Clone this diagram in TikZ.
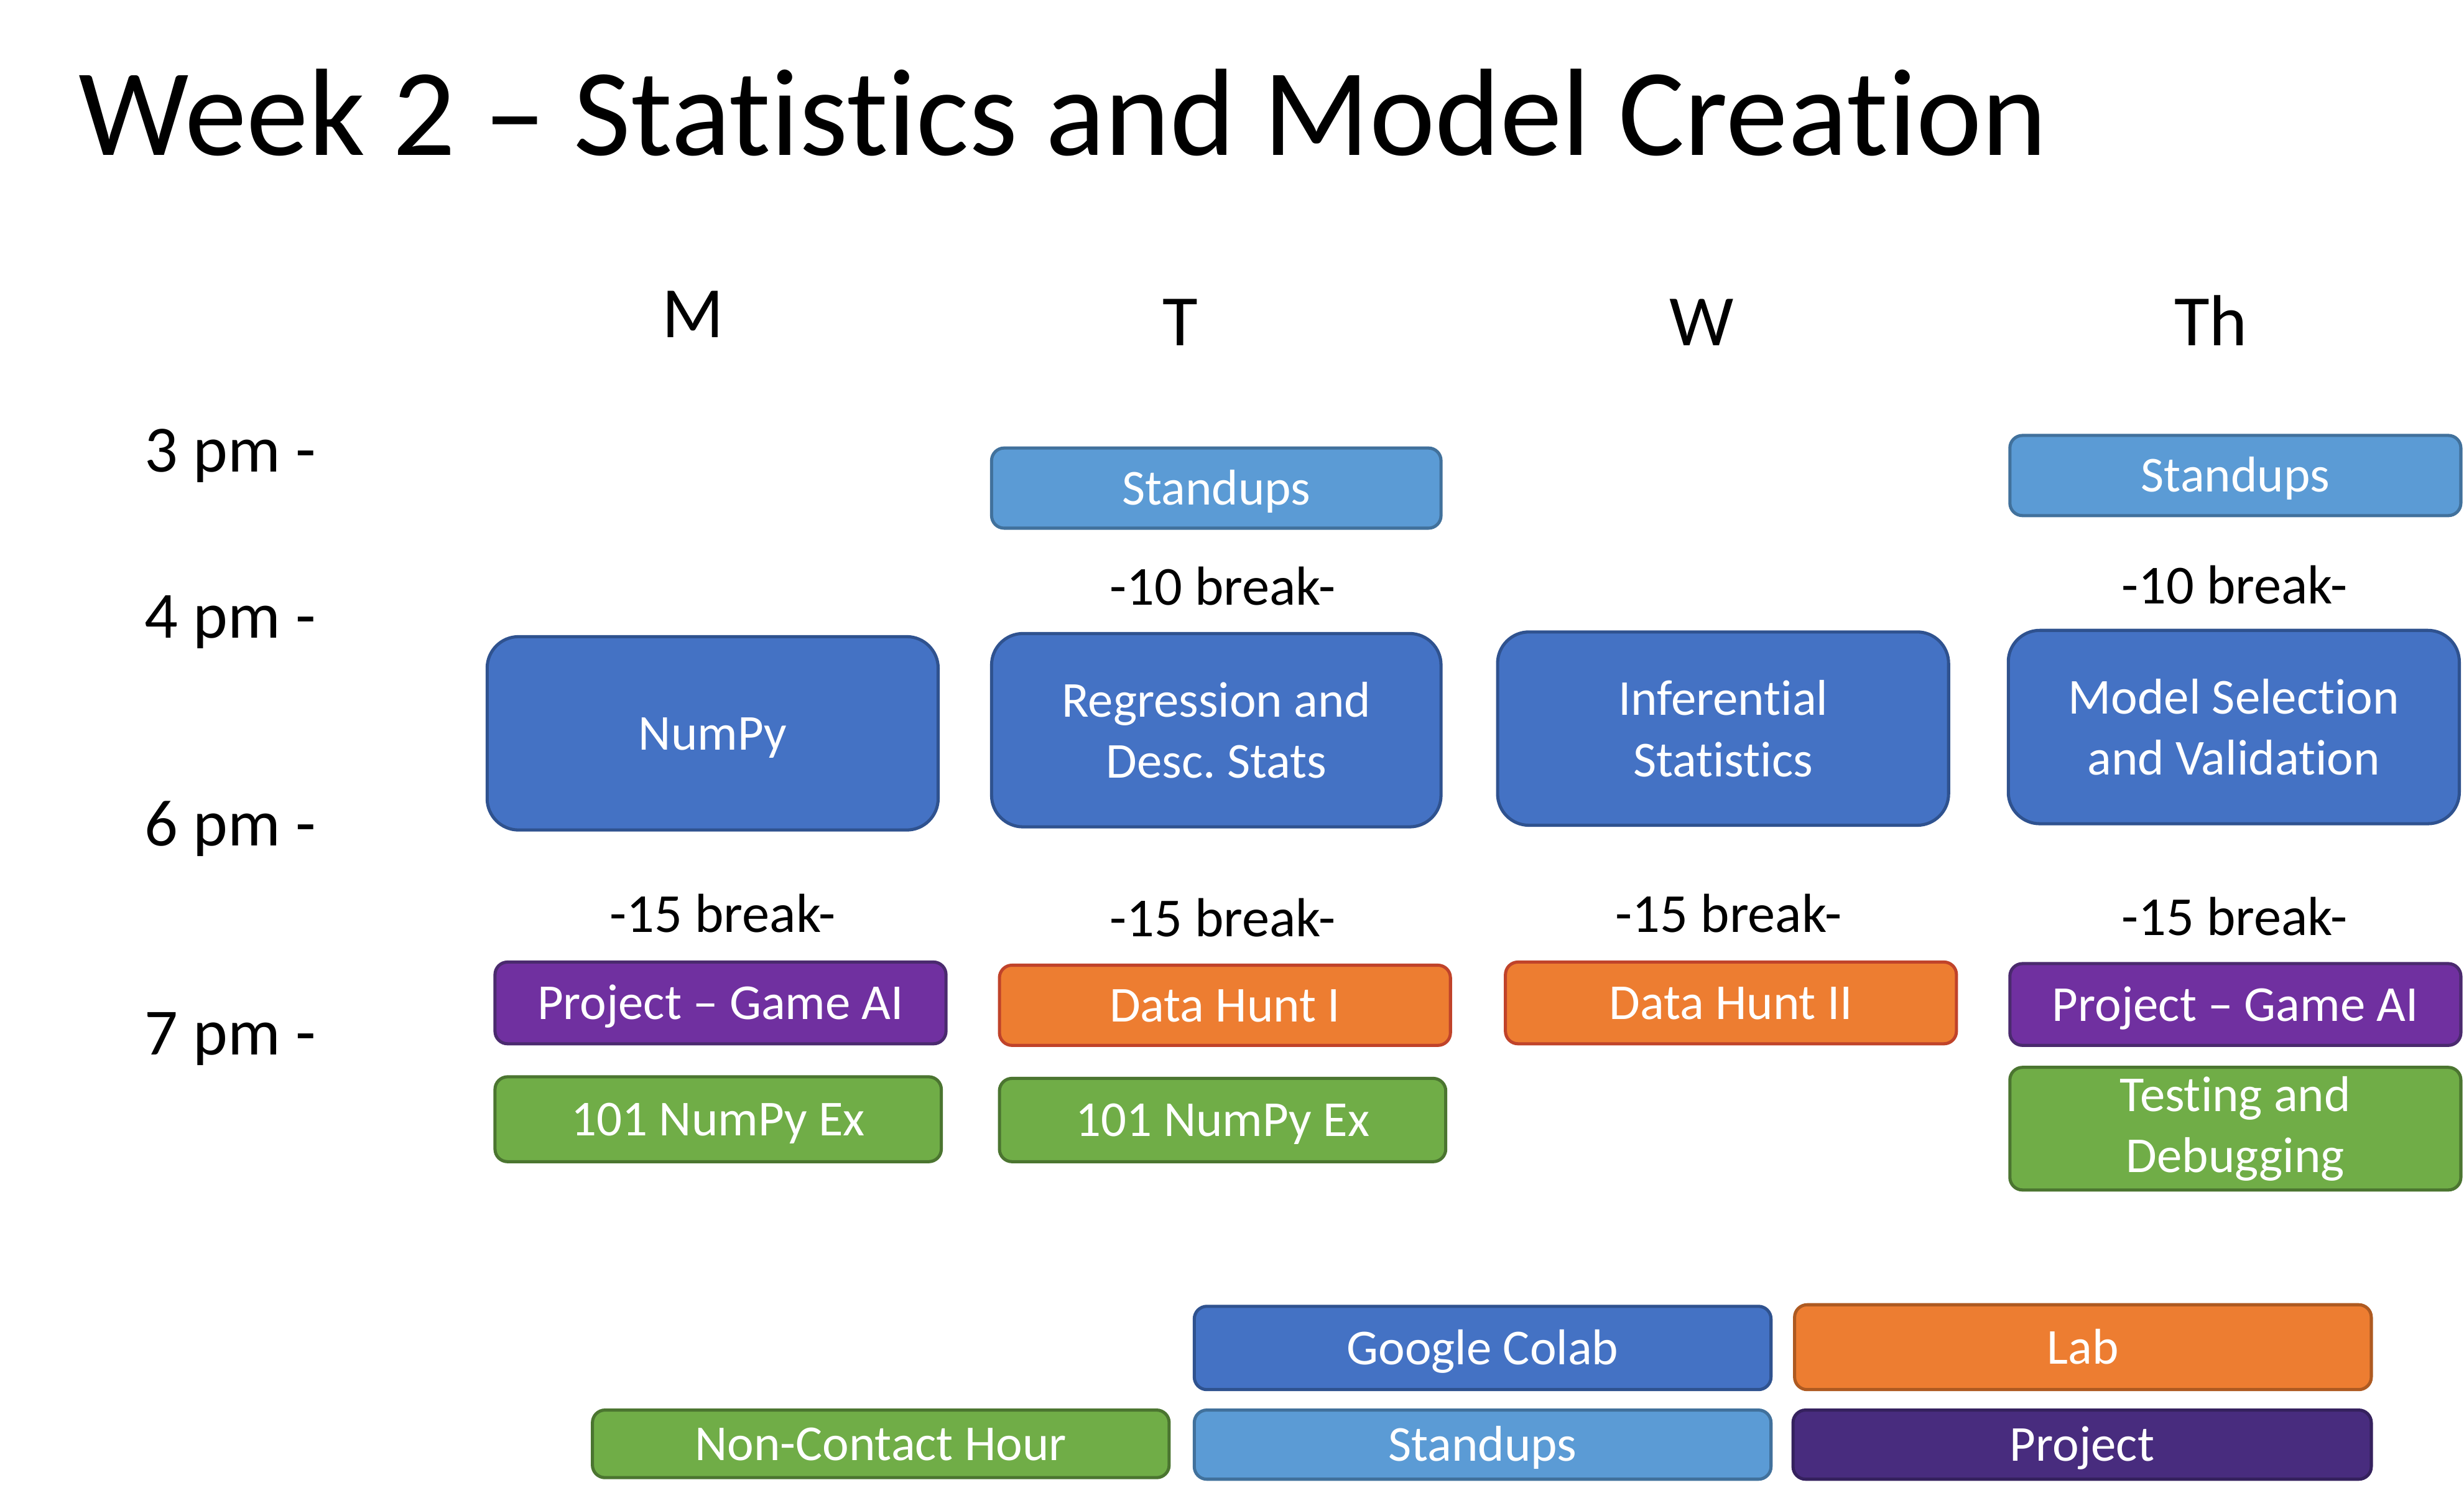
\documentclass[tikz,border=0pt]{standalone}
\usepackage{fontspec}
\setmainfont{Carlito}[Ligatures={NoCommon,NoContextual}]
\frenchspacing
\definecolor{lbf}{HTML}{5B9BD5}\definecolor{lbd}{HTML}{41719C}
\definecolor{bf}{HTML}{4472C4}\definecolor{bd}{HTML}{2F528F}
\definecolor{pf}{HTML}{7030A0}\definecolor{pd}{HTML}{4A2A6E}
\definecolor{of}{HTML}{ED7D31}\definecolor{od}{HTML}{C0432A}\definecolor{od2}{HTML}{AE5A21}
\definecolor{gf}{HTML}{70AD47}\definecolor{gd}{HTML}{4B7530}
\definecolor{dpf}{HTML}{482C7E}\definecolor{dpd}{HTML}{35215E}
\tikzset{
  box/.style={rounded corners=8pt, line width=2pt, text=white, align=center, inner sep=0pt,
    font=\fontsize{32}{39}\selectfont},
  one/.style={text height=26pt, text depth=5pt},
  bigbox/.style={box, rounded corners=20pt},
  lblue/.style={box, fill=lbf, draw=lbd},
  dblue/.style={fill=bf, draw=bd},
  purp/.style={box, fill=pf, draw=pd},
  orng/.style={box, fill=of, draw=od},
  grn/.style={box, fill=gf, draw=gd},
  dpurp/.style={box, fill=dpf, draw=dpd},
  timelbl/.style={anchor=base west, inner sep=0pt, font=\fontsize{42}{50}\selectfont},
  daylbl/.style={anchor=base, inner sep=0pt, font=\fontsize{46}{55}\selectfont},
  brk/.style={anchor=base, inner sep=0pt, font=\fontsize{35}{42}\selectfont},
}
\begin{document}
\begin{tikzpicture}[x=1pt,y=-1pt]
\useasboundingbox (0,0) rectangle (1568,959.3);
% title
\node[anchor=base west, inner sep=0pt, font=\fontsize{79}{95}\selectfont] (title) at (50,98.8) {Week 2 – Statistics and Model Creation};
% days
\node[daylbl] (dM) at (441,214.7) {M};
\node[daylbl] (dT) at (751,220) {T};
\node[daylbl] (dW) at (1083,220) {W};
\node[daylbl] (dTh) at (1407,220) {Th};
% times
\node[timelbl] (t3) at (92,300) {3 pm -};
\node[timelbl] (t4) at (92,406) {4 pm -};
\node[timelbl] (t6) at (92,538) {6 pm -};
\node[timelbl] (t7) at (92,671) {7 pm -};
% standups
\node[lblue, one, minimum width=286, minimum height=51] (sT) at (774,310.5) {Standups};
\node[lblue, one, minimum width=287, minimum height=51] (sTh) at (1422.5,302.5) {Standups};
% 10 breaks
\node[brk] (b10T) at (778,385) {-10 break-};
\node[brk] (b10Th) at (1422,384) {-10 break-};
% big boxes
\node[bigbox, dblue, one, minimum width=287, minimum height=123] (numpy) at (453.5,466.5) {NumPy};
\node[bigbox, dblue, minimum width=286, minimum height=123] (regr) at (774,464.5) {Regression and\\Desc. Stats};
\node[bigbox, dblue, minimum width=287, minimum height=123] (infer) at (1096.5,463.5) {Inferential\\Statistics};
\node[bigbox, dblue, minimum width=287, minimum height=123] (model) at (1421.5,462.5) {Model Selection\\and Validation};
% 15 breaks
\node[brk] (b15M) at (460,593) {-15 break-};
\node[brk] (b15T) at (778,596) {-15 break-};
\node[brk] (b15W) at (1100,593) {-15 break-};
\node[brk] (b15Th) at (1422,595) {-15 break-};
% evening
\node[purp, one, minimum width=287, minimum height=52] (projM) at (458.5,638) {Project – Game AI};
\node[orng, one, minimum width=287, minimum height=51] (dh1) at (779.5,639.5) {Data Hunt I};
\node[orng, one, minimum width=287, minimum height=52] (dh2) at (1101.5,638) {Data Hunt II};
\node[purp, one, minimum width=287, minimum height=52] (projTh) at (1422.5,639) {Project – Game AI};
\node[grn, one, minimum width=284, minimum height=54] (exM) at (457,712) {101 NumPy Ex};
\node[grn, one, minimum width=284, minimum height=53] (exT) at (778,712.5) {101 NumPy Ex};
\node[grn, minimum width=287, minimum height=78] (test) at (1422.5,718) {Testing and\\Debugging};
% legend
\node[box, dblue, one, minimum width=367, minimum height=53] (lgColab) at (943.5,857.5) {Google Colab};
\node[box, fill=of, draw=od2, one, minimum width=367, minimum height=54] (lgLab) at (1325.5,857) {Lab};
\node[grn, one, minimum width=367, minimum height=43] (lgNC) at (560.5,918.5) {Non-Contact Hour};
\node[lblue, one, minimum width=367, minimum height=44] (lgSt) at (943.5,919) {Standups};
\node[dpurp, one, minimum width=368, minimum height=44] (lgProj) at (1325,919) {Project};
\end{tikzpicture}
\end{document}
